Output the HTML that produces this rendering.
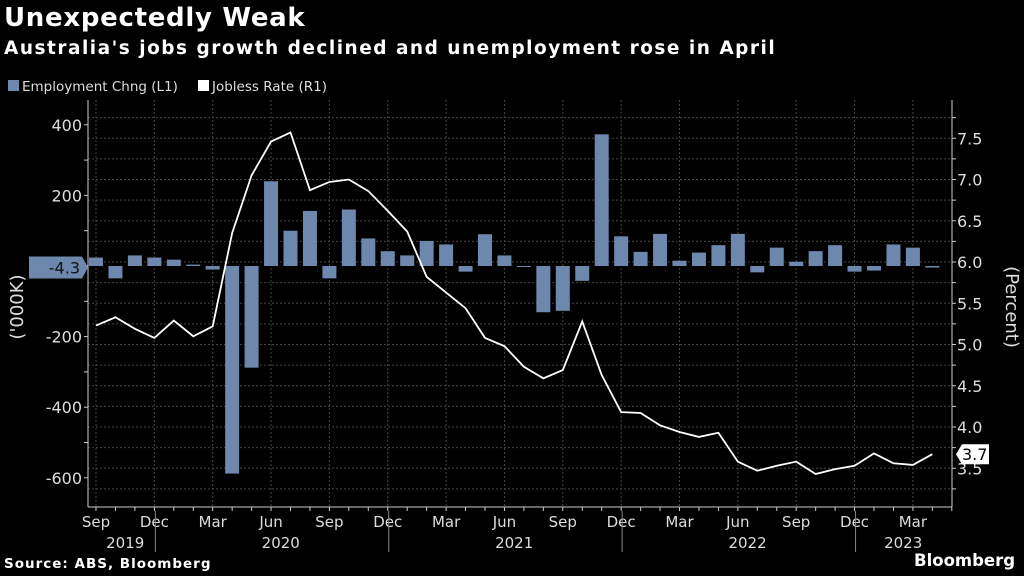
<!DOCTYPE html>
<html><head><meta charset="utf-8">
<style>
body{margin:0;background:#000;width:1024px;height:576px;overflow:hidden;font-family:"DejaVu Sans","Liberation Sans",sans-serif;color:#fff}
.t{position:absolute;left:4px;white-space:nowrap}
svg text{font-family:"DejaVu Sans","Liberation Sans",sans-serif}
</style></head>
<body>
<div class="t" style="top:3px;font-size:26px;font-weight:bold;letter-spacing:0.7px">Unexpectedly Weak</div>
<div class="t" style="top:38px;font-size:18.5px;font-weight:bold;letter-spacing:1.5px">Australia's jobs growth declined and unemployment rose in April</div>
<div class="t" style="top:556px;font-size:13.5px;font-weight:bold;letter-spacing:1px">Source: ABS, Bloomberg</div>
<div class="t" style="left:914px;top:551px;font-size:16.5px;font-weight:bold">Bloomberg</div>
<svg id="c" width="1024" height="576" style="position:absolute;left:0;top:0"></svg>
<script>
const months=["Sep","Oct","Nov","Dec","Jan","Feb","Mar","Apr","May","Jun","Jul","Aug"];
const startYear=2019;
const employment=[24,-35,30,24,18,4,-10,-588,-288,240,100,156,-35,160,78,42,30,71,61,-16,90,30,-1,-131,-127,-42,373,84,40,91,15,38,59,91,-18,52,12,42,59,-16,-13,61,52,-4.3];
const jobless=[5.23,5.33,5.19,5.08,5.29,5.10,5.22,6.35,7.05,7.46,7.57,6.87,6.97,7.0,6.86,6.62,6.37,5.82,5.63,5.44,5.08,4.98,4.73,4.59,4.69,5.28,4.63,4.18,4.17,4.02,3.94,3.88,3.93,3.58,3.47,3.53,3.58,3.43,3.49,3.53,3.68,3.56,3.54,3.67];
const leftTicks=[400,200,-200,-400,-600];
const rightTicks=[3.5,4.0,4.5,5.0,5.5,6.0,6.5,7.0,7.5];
const years=["2019","2020","2021","2022","2023"];
const NS="http://www.w3.org/2000/svg";
const svg=document.getElementById('c');
const L=88,R=952,T=100,B=507;
const x=i=>96+i*19.45;
const yL=v=>266-v*0.353;
const yR=p=>262-(p-6)*82.5;
function mk(tag,at,txt){const e=document.createElementNS(NS,tag);for(const k in at)e.setAttribute(k,at[k]);if(txt!==undefined)e.textContent=txt;svg.appendChild(e);return e;}
for(let p=3.25;p<=7.75;p+=0.25){
 const g=mk('line',{x1:L,x2:R,y1:yR(p),y2:yR(p),stroke:'#444','stroke-dasharray':'2,2'});
 
 
}
const n=jobless.length;
for(let i=0;i<n+1;i++){
 const m=months[i%12];
 const tk=mk('line',{x1:x(i),x2:x(i),y1:B,y2:B+4,stroke:'#ccc'});
 
 
 if(i%3===0 && i<n){
  const g=mk('line',{x1:x(i),x2:x(i),y1:T,y2:B,stroke:'#444','stroke-dasharray':'2,2'});
  
  
  const t=mk('text',{x:x(i),y:527,fill:'#ddd','font-size':15,'text-anchor':'middle'},m);
  
  
 }
 if(m==="Dec"){
  const s=mk('line',{x1:x(i)+1,x2:x(i)+1,y1:B+4,y2:552,stroke:'#888'});
  
  
 }
}
years.forEach((yr,k)=>{
 const s=k===0?0:(4+12*(k-1)), e=Math.min(n-1,k===0?3:s+11);
 const t=mk('text',{x:(x(s)+x(e))/2,y:548,fill:'#ddd','font-size':15,'text-anchor':'middle'},yr);
 
 
});
const ax=mk('line',{x1:L,x2:L,y1:T,y2:B,stroke:'#ccc'});
const ar=mk('line',{x1:R,x2:R,y1:T,y2:B,stroke:'#ccc'});
const ab=mk('line',{x1:L,x2:R,y1:B,y2:B,stroke:'#ccc'});
for(let v=-600;v<=400;v+=100){
 const tk=mk('line',{x1:L-4,x2:L,y1:yL(v),y2:yL(v),stroke:'#ccc'});
 
 
}
leftTicks.forEach(v=>{
 const t=mk('text',{x:L-6,y:yL(v)+6,fill:'#ddd','font-size':16,'text-anchor':'end'},v);
 
 
});
for(let p=3.25;p<=7.8;p+=0.25){
 const tk=mk('line',{x1:R,x2:R+4,y1:yR(p),y2:yR(p),stroke:'#ccc'});
 
 
}
rightTicks.forEach(p=>{
 const t=mk('text',{x:R+5,y:yR(p)+6,fill:'#ddd','font-size':16},p.toFixed(1));
 
 
});
employment.forEach((v,i)=>{
 const y0=yL(0),y1=yL(v);
 const b=mk('rect',{x:x(i)-7,y:Math.min(y0,y1),width:14,height:Math.max(1,Math.abs(y1-y0)),fill:'#6e87ad'});
 
 
});
const ln=mk('polyline',{points:jobless.map((p,i)=>x(i)+','+yR(p)).join(' '),fill:'none',stroke:'#fff','stroke-width':1.8});


const lastE=employment[n-1],ly=yL(lastE);
const tg=mk('polygon',{points:`29,${ly-11} 82,${ly-11} 88,${ly} 82,${ly+11} 29,${ly+11}`,fill:'#6e87ad'});


const tt=mk('text',{x:80,y:ly+6,fill:'#111','font-size':16,'text-anchor':'end'},lastE.toFixed(1));


const lastJ=jobless[n-1],jy=yR(lastJ);
const tj=mk('polygon',{points:`${R+4},${jy} ${R+10},${jy-10} ${R+37},${jy-10} ${R+37},${jy+10} ${R+10},${jy+10}`,fill:'#fff'});


const tjt=mk('text',{x:R+10,y:jy+6,fill:'#000','font-size':16},lastJ.toFixed(1));


const lt=mk('text',{x:0,y:0,fill:'#ddd','font-size':18,'text-anchor':'middle',transform:'translate(23,307) rotate(-90)'},"('000K)");


const rt=mk('text',{x:0,y:0,fill:'#ddd','font-size':18,'text-anchor':'middle',transform:'translate(1006,307) rotate(90)'},"(Percent)");


const l1=mk('rect',{x:8,y:80,width:11,height:11,fill:'#6e87ad'});
const l1t=mk('text',{x:22,y:91,fill:'#ddd','font-size':13.5},'Employment Chng (L1)');
const l2=mk('rect',{x:198,y:80,width:11,height:11,fill:'#fff'});
const l2t=mk('text',{x:212,y:91,fill:'#ddd','font-size':13.5},'Jobless Rate (R1)');
</script>
</body></html>
